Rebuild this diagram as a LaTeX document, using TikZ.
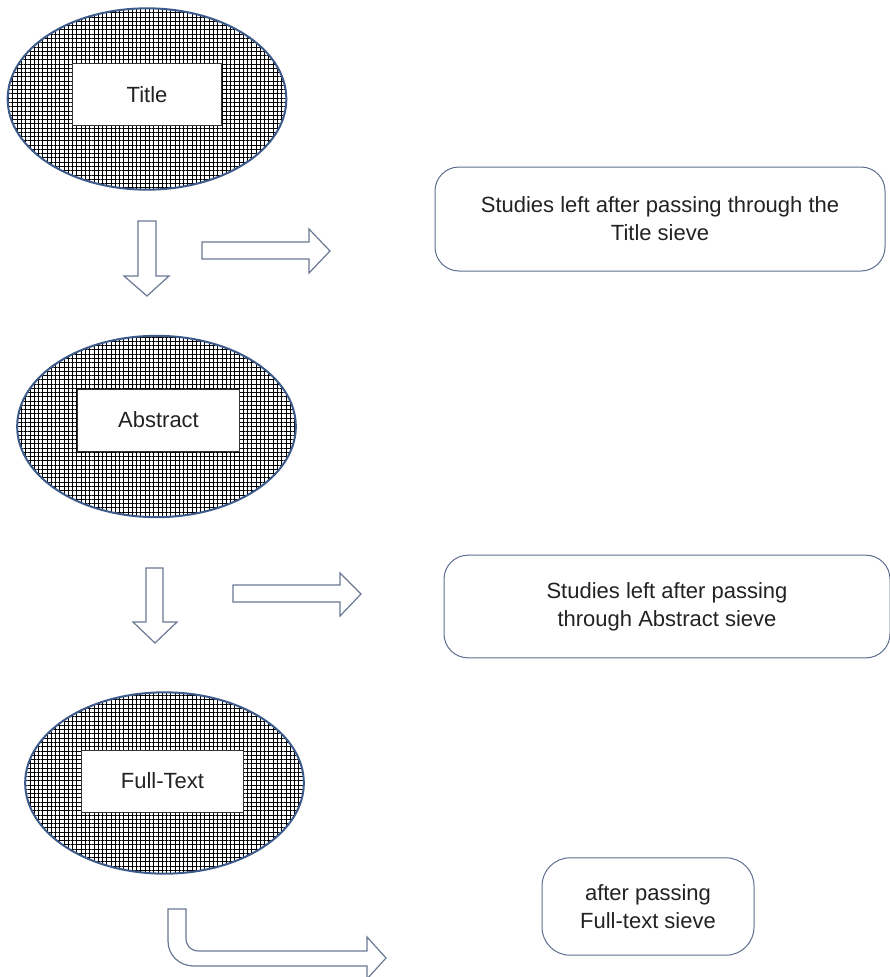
\documentclass[tikz,border=0pt]{standalone}
\usepackage{fontspec}
\setmainfont{Liberation Sans}
\usetikzlibrary{positioning,shapes.geometric,patterns.meta}
\definecolor{sieveblue}{HTML}{3C5A8A}
\definecolor{arrowgrey}{HTML}{6A7893}
\definecolor{boxgrey}{HTML}{5E6F8E}
\definecolor{ink}{HTML}{222222}

\begin{document}
\begin{tikzpicture}[
  x=0.75pt, y=-0.75pt,
  font=\fontsize{16.5}{21}\selectfont, text=ink,
  sieve/.style={ellipse, draw=sieveblue, line width=1.5pt, inner sep=0pt,
                minimum width=209pt, minimum height=136pt,
                pattern={Hatch[distance=3.2pt, line width=0.5pt]},
                pattern color=black},
  stage/.style={draw=black!80, fill=white, line width=0.6pt, inner sep=0pt,
                minimum width=122pt, minimum height=46.5pt,
                font=\fontsize{16.5}{20}\selectfont},
  result/.style={draw=boxgrey, line width=0.75pt, rounded corners=18pt,
                 align=center, inner sep=0pt},
  block/.style={draw=arrowgrey, line width=0.9pt, fill=white, line join=miter},
]
\useasboundingbox (0,0) rectangle (889,977);

\node[sieve] (ell1) at (147,99) {};
\node[stage, minimum width=112pt, yshift=3.4pt] (title) at (ell1.center) {Title};

\node[sieve] (ell2) at (156.5,426.5) {};
\node[stage, xshift=1.5pt, yshift=4.9pt] (abstract) at (ell2.center) {Abstract};

\node[sieve] (ell3) at (164.5,783) {};
\node[stage, xshift=-1.5pt, yshift=1.5pt] (fulltext) at (ell3.center) {Full-Text};

\node[result, minimum width=337.5pt, minimum height=78pt] (left1) at (660,219)
  {Studies left after passing through the\\ Title sieve};
\node[result, minimum width=334.5pt, minimum height=77pt] (left2) at (667,606.5)
  {Studies left after passing\\ through Abstract sieve};
\node[result, minimum width=159pt, minimum height=73pt, rounded corners=21pt]
  (left3) at (648,906.5) {after passing\\ Full-text sieve};

\draw[block] (138,221) -- (156,221) -- (156,276) -- (169,276) -- (147,296)
  -- (124,276) -- (138,276) -- cycle;
\draw[block] (202,242) -- (309,242) -- (309,229) -- (330,251) -- (309,273)
  -- (309,259) -- (202,259) -- cycle;

\draw[block] (146,568) -- (163,568) -- (163,622) -- (177,622) -- (155,643)
  -- (133,622) -- (146,622) -- cycle;
\draw[block] (233,585) -- (340,585) -- (340,573) -- (361,594) -- (340,616)
  -- (340,602) -- (233,602) -- cycle;

\draw[block] (168,909) -- (186,909) -- (186,938)
  .. controls (186,946) and (191,951) .. (199,951) -- (367,951) -- (367,937)
  -- (386,958) -- (367,979) -- (367,966) -- (194,966)
  .. controls (179,966) and (168,955) .. (168,941) -- cycle;

\end{tikzpicture}
\end{document}
